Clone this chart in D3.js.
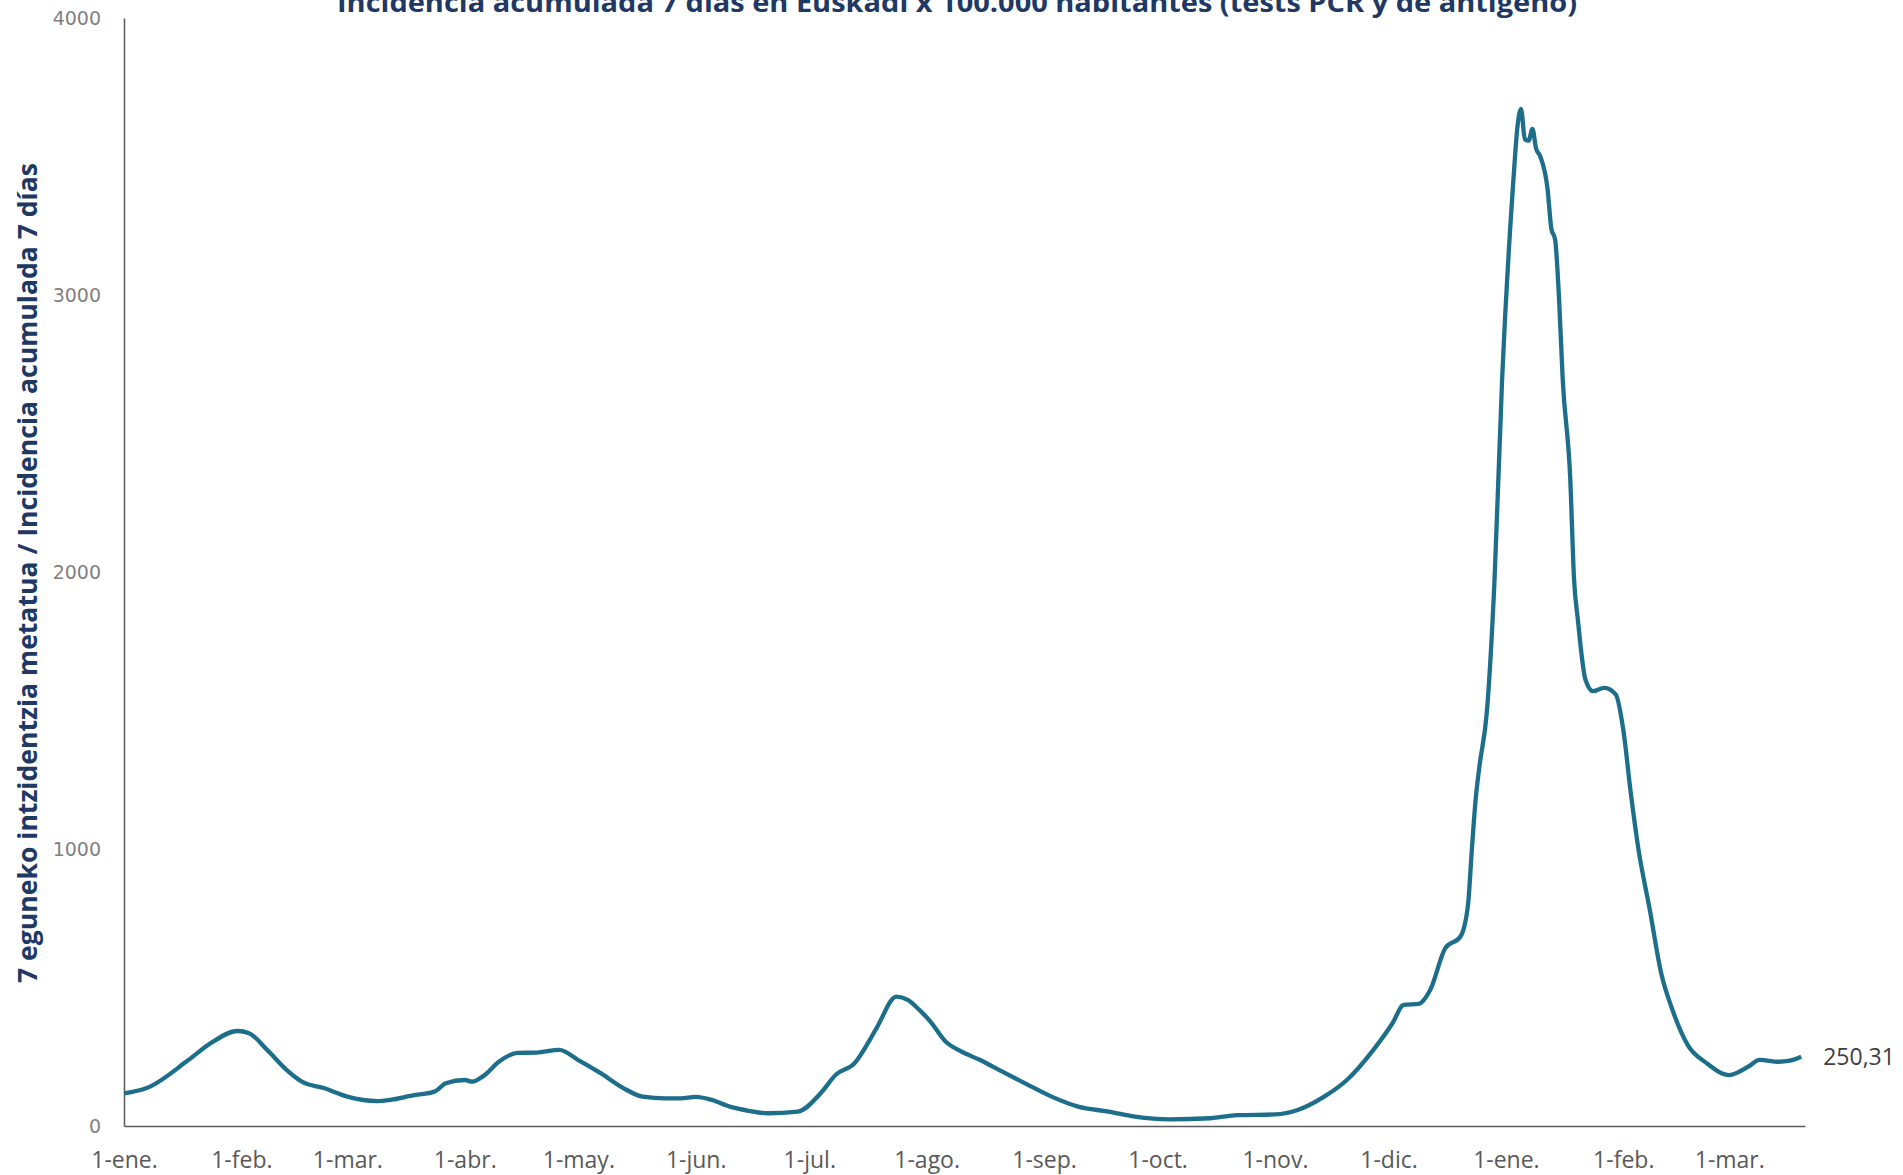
<!DOCTYPE html>
<html>
<head>
<meta charset="utf-8">
<script src="https://cdn.jsdelivr.net/npm/d3@7"></script>
<style>
  body { margin: 0; background: #fff; }
  svg { display: block; }
</style>
</head>
<body>
<svg id="chart"></svg>
<script>
// daily 7-day incidence per 100.000
const dates = [
  "2021-01-01","2021-01-07","2021-01-18","2021-01-24","2021-01-31","2021-02-03","2021-02-08","2021-02-13",
  "2021-02-17","2021-02-23","2021-03-01","2021-03-09","2021-03-19","2021-03-24","2021-03-27","2021-04-01",
  "2021-04-03","2021-04-06","2021-04-10","2021-04-15","2021-04-20","2021-04-26","2021-05-01","2021-05-07",
  "2021-05-13","2021-05-18","2021-05-24","2021-05-28","2021-06-01","2021-06-05","2021-06-10","2021-06-15",
  "2021-06-20","2021-06-28","2021-07-04","2021-07-08","2021-07-13","2021-07-17","2021-07-19","2021-07-24",
  "2021-07-27","2021-07-30","2021-08-02","2021-08-06","2021-08-10","2021-08-15","2021-08-21","2021-08-27",
  "2021-09-03","2021-09-10","2021-09-18","2021-09-25","2021-10-04","2021-10-15","2021-10-22","2021-11-01",
  "2021-11-07","2021-11-14","2021-11-20","2021-11-27","2021-12-02","2021-12-05","2021-12-09","2021-12-12",
  "2021-12-16","2021-12-20","2021-12-22","2021-12-23","2021-12-24","2021-12-25","2021-12-27","2021-12-29",
  "2021-12-31","2022-01-03","2022-01-04","2022-01-05","2022-01-06","2022-01-07","2022-01-08","2022-01-09",
  "2022-01-10","2022-01-12","2022-01-13","2022-01-14","2022-01-15","2022-01-16","2022-01-18","2022-01-19",
  "2022-01-20","2022-01-22","2022-01-24","2022-01-27","2022-01-30","2022-02-01","2022-02-03","2022-02-05",
  "2022-02-08","2022-02-11","2022-02-14","2022-02-18","2022-02-23","2022-03-01","2022-03-06","2022-03-09",
  "2022-03-14","2022-03-17","2022-03-20"
];
const values = [
  118, 137, 238, 300, 343, 335, 272, 202,
  160, 136, 106, 90, 112, 124, 154, 166,
  160, 181, 232, 264, 265, 275, 238, 190,
  136, 106, 100, 100, 105, 95, 70, 55,
  46, 52, 118, 185, 227, 311, 359, 467,
  455, 420, 377, 305, 270, 239, 196, 154,
  106, 70, 52, 34, 24, 28, 39, 42,
  58, 106, 166, 275, 370, 437, 441, 491,
  642, 684, 800, 997, 1178, 1298, 1500, 1973,
  2696, 3419, 3600, 3672, 3563, 3557, 3600, 3527,
  3503, 3383, 3240, 3200, 2997, 2696, 2335, 1973,
  1829, 1612, 1570, 1582, 1558, 1431, 1200, 1000,
  781, 552, 419, 293, 227, 184, 214, 239,
  232, 236, 250.31
];
const monthAbbr = ["ene.","feb.","mar.","abr.","may.","jun.","jul.","ago.","sep.","oct.","nov.","dic."];
const yTicks = [0, 1000, 2000, 3000, 4000];
const lastLabel = "250,31";
const chartTitle = "Incidencia acumulada 7 días en Euskadi x 100.000 habitantes (tests PCR y de antígeno)";
const yTitle = "7 eguneko intzidentzia metatua / Incidencia acumulada 7 días";

const W = 1903, H = 1175;
const plotLeft = 124, plotRight = 1805, plotTop = 18, plotBottom = 1126;

const parse = d3.timeParse("%Y-%m-%d");
const data = dates.map((d, i) => ({date: parse(d), value: values[i]}));

const svg = d3.select("#chart").attr("width", W).attr("height", H);

const start = parse("2021-01-01"), end = parse("2022-03-21");
const x = d3.scaleTime().domain([start, end]).range([plotLeft, plotRight]);
const y = d3.scaleLinear().domain([0, 4000]).range([plotBottom, plotTop]);

// title (top is clipped like in the original)
svg.append("text")
  .attr("x", 957)
  .attr("y", 12)
  .attr("text-anchor", "middle")
  .attr("textLength", 1240)
  .attr("lengthAdjust", "spacingAndGlyphs")
  .style("font-family", "Open Sans")
  .style("font-weight", "bold")
  .style("font-size", "27px")
  .style("fill", "#203864")
  .text(chartTitle);

// y axis
const yAxis = svg.append("g")
  .attr("transform", `translate(${plotLeft},0)`)
  .call(d3.axisLeft(y).tickValues(yTicks).tickSize(0).tickSizeOuter(0).tickPadding(23).tickFormat(d3.format("d")));
yAxis.select(".domain").attr("stroke", "#595959").attr("stroke-width", 1.5);
yAxis.selectAll("text")
  .style("font-family", "DejaVu Sans")
  .style("font-size", "19px")
  .style("fill", "#7f7f7f");

// x axis
const xAxis = svg.append("g")
  .attr("transform", `translate(0,${plotBottom})`)
  .call(d3.axisBottom(x)
    .tickValues(d3.timeMonth.range(start, end))
    .tickSize(0).tickSizeOuter(0)
    .tickFormat(d => "1-" + monthAbbr[d.getMonth()]));
xAxis.select(".domain").attr("stroke", "#595959").attr("stroke-width", 1.5);
xAxis.selectAll("text")
  .attr("y", 42).attr("dy", null)
  .style("font-family", "Open Sans")
  .style("font-size", "23px")
  .style("fill", "#595959");

// y axis title
svg.append("text")
  .attr("transform", `translate(37,${573}) rotate(-90)`)
  .attr("text-anchor", "middle")
  .attr("textLength", 820)
  .attr("lengthAdjust", "spacingAndGlyphs")
  .style("font-family", "Open Sans")
  .style("font-weight", "bold")
  .style("font-size", "27px")
  .style("fill", "#203864")
  .text(yTitle);

// line
const line = d3.line()
  .x(d => x(d.date))
  .y(d => y(d.value))
  .curve(d3.curveMonotoneX);

svg.append("path")
  .datum(data)
  .attr("fill", "none")
  .attr("stroke", "#1d6e8b")
  .attr("stroke-width", 4.3)
  .attr("stroke-linejoin", "round")
  .attr("d", line);

// last value label
const last = data[data.length - 1];
svg.append("text")
  .attr("x", x(last.date) + 22)
  .attr("y", y(last.value) + 8)
  .style("font-family", "Open Sans")
  .style("font-size", "23px")
  .style("fill", "#404040")
  .text(lastLabel);
</script>
</body>
</html>
